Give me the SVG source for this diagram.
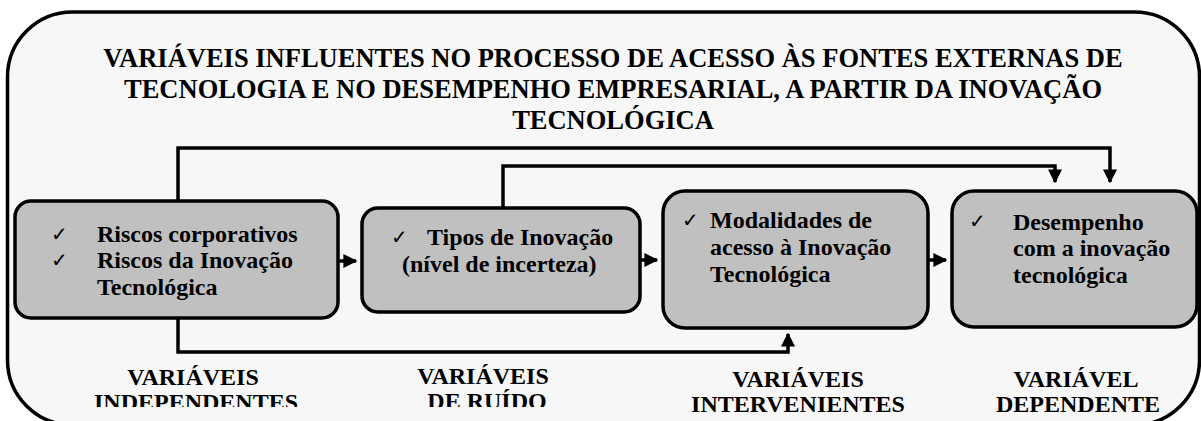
<svg xmlns="http://www.w3.org/2000/svg" width="1201" height="421" viewBox="0 0 1201 421">
<defs>
<style>
.t{font-family:"Liberation Serif","Times New Roman",serif;font-weight:bold;fill:#000}
.title{font-size:26.5px;text-anchor:middle}
.bx{font-size:24px}
.lbl{font-size:24px;text-anchor:middle}
.ck{font-family:"Liberation Serif","DejaVu Sans",serif;font-size:20px;fill:#000}
.box{fill:#c0c0c0;stroke:#000;stroke-width:3.5}
.ln{fill:none;stroke:#000;stroke-width:3.5}
</style>
<marker id="ah" viewBox="0 0 10 10" refX="9" refY="5" markerWidth="4" markerHeight="4" orient="auto" markerUnits="strokeWidth">
<path d="M0,0 L10,5 L0,10 z" fill="#000"/>
</marker>
<clipPath id="clipA"><rect x="0" y="0" width="640" height="407"/></clipPath>
</defs>
<rect width="1201" height="421" fill="#fff"/>
<g id="frame">
<rect x="7.5" y="12" width="1192" height="413" rx="65" ry="65" fill="#f7f7f7" stroke="#000" stroke-width="3.5"/>
</g>
<g id="title">
<text class="t title" x="613" y="67">VARIÁVEIS INFLUENTES NO PROCESSO DE ACESSO ÀS FONTES EXTERNAS DE</text>
<text class="t title" x="613" y="98">TECNOLOGIA E NO DESEMPENHO EMPRESARIAL, A PARTIR DA INOVAÇÃO</text>
<text class="t title" x="613" y="129">TECNOLÓGICA</text>
</g>
<g id="connectors">
<polyline class="ln" points="178,200 178,148 1110,148 1110,182" marker-end="url(#ah)"/>
<polyline class="ln" points="503,207 503,166 1055,166 1055,182" marker-end="url(#ah)"/>
<polyline class="ln" points="178,318 178,352 788,352 788,334" marker-end="url(#ah)"/>
<line class="ln" x1="338" y1="261" x2="356" y2="261" marker-end="url(#ah)"/>
<line class="ln" x1="640" y1="260" x2="657" y2="260" marker-end="url(#ah)"/>
<line class="ln" x1="928" y1="260" x2="946" y2="260" marker-end="url(#ah)"/>
</g>
<g id="node1">
<rect class="box" x="15" y="201" width="323" height="117" rx="16"/>
<text class="ck" x="51" y="241">✓</text>
<text class="ck" x="51" y="267">✓</text>
<text class="t bx" x="97" y="242">Riscos corporativos</text>
<text class="t bx" x="97" y="268">Riscos da Inovação</text>
<text class="t bx" x="97" y="295">Tecnológica</text>
</g>
<g id="node2">
<rect class="box" x="362" y="208" width="278" height="104" rx="16"/>
<text class="ck" x="391" y="244">✓</text>
<text class="t bx" x="427" y="245">Tipos de Inovação</text>
<text class="t bx" x="402" y="272">(nível de incerteza)</text>
</g>
<g id="node3">
<rect class="box" x="663" y="191" width="265" height="137" rx="22"/>
<text class="ck" x="682" y="227">✓</text>
<text class="t bx" x="710" y="228">Modalidades de</text>
<text class="t bx" x="710" y="255">acesso à Inovação</text>
<text class="t bx" x="710" y="282">Tecnológica</text>
</g>
<g id="node4">
<rect class="box" x="952" y="191" width="245" height="136" rx="22"/>
<text class="ck" x="969" y="228">✓</text>
<text class="t bx" x="1013" y="230">Desempenho</text>
<text class="t bx" x="1013" y="256">com a inovação</text>
<text class="t bx" x="1013" y="283">tecnológica</text>
</g>
<g id="labels">
<g clip-path="url(#clipA)">
<text class="t lbl" x="193" y="385">VARIÁVEIS</text>
<text class="t lbl" x="196" y="410">INDEPENDENTES</text>
<text class="t lbl" x="483" y="384">VARIÁVEIS</text>
<text class="t lbl" x="487" y="409">DE RUÍDO</text>
</g>
<text class="t lbl" x="798" y="387">VARIÁVEIS</text>
<text class="t lbl" x="798" y="412">INTERVENIENTES</text>
<text class="t lbl" x="1076" y="387">VARIÁVEL</text>
<text class="t lbl" x="1078" y="412">DEPENDENTE</text>
</g>
</svg>
